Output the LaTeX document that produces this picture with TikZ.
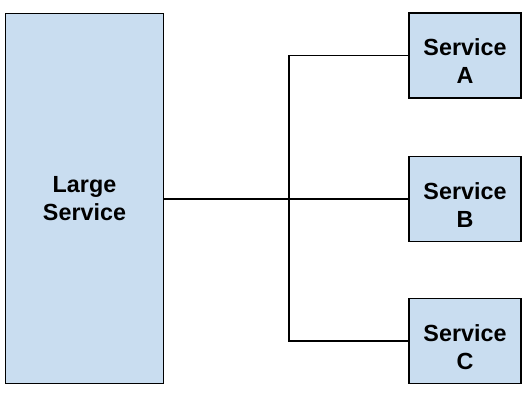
\documentclass[tikz,border=0pt]{standalone}
\usepackage{fontspec}
\setmainfont{Liberation Sans}
\begin{document}
\begin{tikzpicture}[x=0.75pt,y=-0.75pt,
  box/.style={draw=black, line width=1.1pt, fill=boxblue, inner sep=0pt},
  txt/.style={align=center, inner sep=0pt, font=\fontsize{17.5}{21}\selectfont\bfseries},
  svc/.style={box, minimum width=112*0.75pt, minimum height=85*0.75pt},
  link/.style={draw=black, line width=1.1pt}]
\definecolor{boxblue}{HTML}{C9DDF0}
\useasboundingbox (0,0) rectangle (531,400);
\node[box, txt, minimum width=157.5*0.75pt, minimum height=370.5*0.75pt] (L) at (84.5,198.5) {Large\\Service};
\node[svc] (A) at (465,55.5) {};
\node[svc] (B) at (465,199) {};
\node[svc] (C) at (465,341) {};
\node[txt] (At) at ([yshift=-4.5pt]A.center) {Service\\A};
\node[txt] (Bt) at ([yshift=-4.5pt]B.center) {Service\\B};
\node[txt] (Ct) at ([yshift=-4.5pt]C.center) {Service\\C};
\coordinate (J) at (289,199);
\draw[link] (L.east |- J) -- (B.west);
\draw[link] (A.west) -| (J) |- (C.west);
\end{tikzpicture}
\end{document}
